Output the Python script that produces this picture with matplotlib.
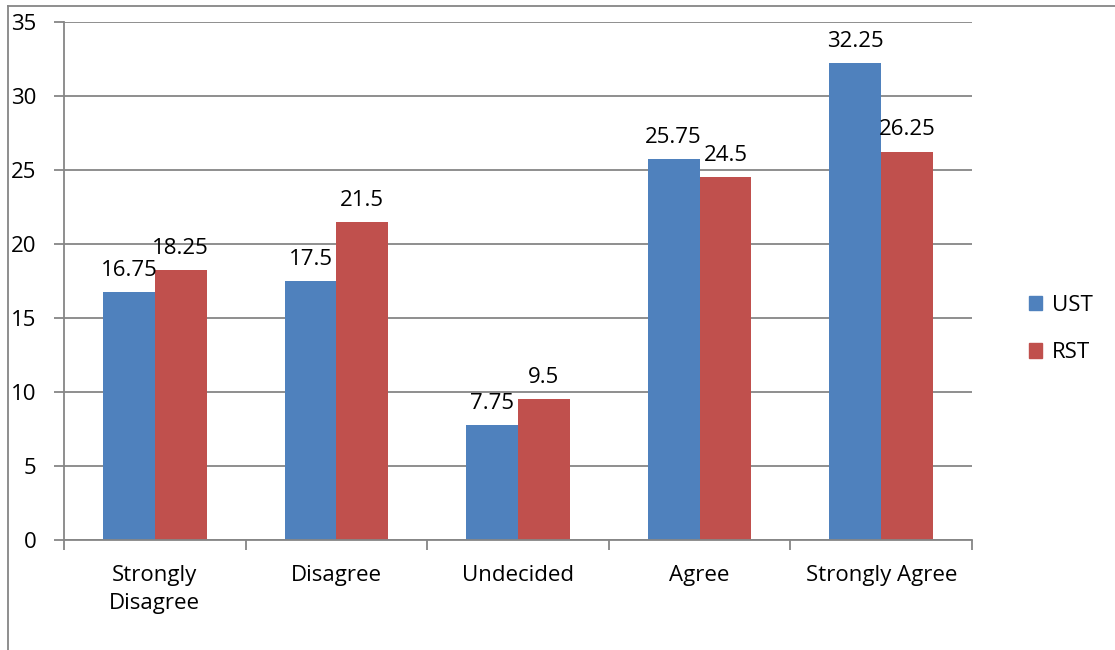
import matplotlib.pyplot as plt
from matplotlib.lines import Line2D
from matplotlib.patches import Patch
import numpy as np

# ---- data ----
categories = ["Strongly\nDisagree", "Disagree", "Undecided", "Agree", "Strongly Agree"]
ust_values = [16.75, 17.5, 7.75, 25.75, 32.25]
rst_values = [18.25, 21.5, 9.5, 24.5, 26.25]
ust_labels = ["16.75", "17.5", "7.75", "25.75", "32.25"]
rst_labels = ["18.25", "21.5", "9.5", "24.5", "26.25"]
y_ticks = [0, 5, 10, 15, 20, 25, 30, 35]

BLUE = "#4F81BD"
RED = "#C0504D"
GRID = "#868686"
FS = 16

plt.rcParams["font.family"] = ["Open Sans", "DejaVu Sans"]

fig = plt.figure(figsize=(11.15, 6.5), dpi=100)
ax = fig.add_axes([64 / 1115, 1 - 540 / 650, (972 - 64) / 1115, (540 - 22) / 650])

x = np.arange(len(categories))
bw = 1 / 3.5
ax.bar(x - bw / 2, ust_values, bw, color=BLUE, zorder=2, label="UST")
ax.bar(x + bw / 2, rst_values, bw, color=RED, zorder=2, label="RST")

for xi, v, t in zip(x, ust_values, ust_labels):
    ax.annotate(t, (xi - bw / 2, v), xytext=(0, 8), textcoords="offset points",
                ha="center", va="bottom", fontsize=FS)
for xi, v, t in zip(x, rst_values, rst_labels):
    ax.annotate(t, (xi + bw / 2, v), xytext=(0, 8), textcoords="offset points",
                ha="center", va="bottom", fontsize=FS)

ax.set_xlim(-0.5, len(categories) - 0.5)
ax.set_ylim(0, 35)
ax.set_yticks(y_ticks)
ax.set_yticklabels([str(t) for t in y_ticks], fontsize=FS)
ax.yaxis.grid(True, color=GRID, linewidth=1.3, zorder=0)
ax.set_axisbelow(True)

# category labels between boundary ticks
ax.set_xticks(np.arange(len(categories) + 1) - 0.5)
ax.set_xticklabels([])
ax.set_xticks(x, minor=True)
ax.set_xticklabels(categories, minor=True, fontsize=FS, linespacing=1.45)
ax.tick_params(axis="x", which="minor", length=0, pad=18)
ax.tick_params(axis="x", which="major", length=7, color=GRID, width=1.3)
ax.tick_params(axis="y", length=7, color=GRID, width=1.3, pad=13)

for side in ["top", "right"]:
    ax.spines[side].set_visible(False)
for side in ["left", "bottom"]:
    ax.spines[side].set_color(GRID)
    ax.spines[side].set_linewidth(1.3)

handles = [Patch(color=BLUE, label="UST"), Patch(color=RED, label="RST")]
fig.legend(handles=handles, loc="center left", bbox_to_anchor=(1009 / 1115, 1 - 329 / 650),
           frameon=False, fontsize=FS, handlelength=0.6, handleheight=0.6,
           handletextpad=0.45, labelspacing=1.2)

# outer chart border
fig.add_artist(Line2D([8 / 1115, 8 / 1115], [0, 1 - 6 / 650], color=GRID, linewidth=1.3))
fig.add_artist(Line2D([8 / 1115, 1], [1 - 6 / 650, 1 - 6 / 650], color=GRID, linewidth=1.3))

fig.savefig("out.png", dpi=100)
